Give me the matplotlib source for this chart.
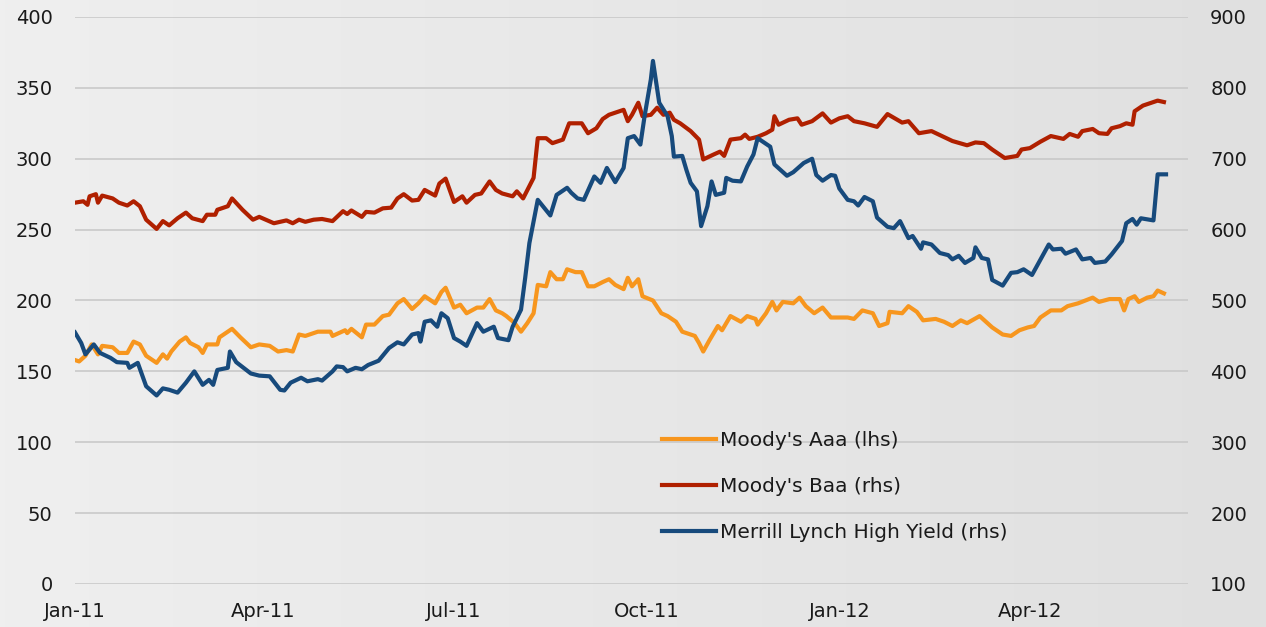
import numpy as np
import pandas as pd
import matplotlib
matplotlib.use('Agg')
import matplotlib.pyplot as plt
import matplotlib.dates as mdates

# days since 1 Jan 2011 and spread values (bp)
aaa_days = [0, 2, 5, 8, 11, 13, 18, 21, 25, 28, 31, 34, 39, 42, 44, 46, 50, 53, 55, 59, 61, 63, 68, 69, 75, 79,
            84, 88, 93, 97, 101, 104, 107, 110, 116, 122, 123, 129, 130, 132, 137, 139, 143, 147, 150, 154, 157,
            161, 164, 167, 172, 175, 177, 181, 184, 187, 192, 195, 198, 201, 204, 206, 210, 213, 216, 219, 221,
            225, 227, 230, 233, 235, 239, 242, 245, 248, 252, 255, 258, 262, 264, 266, 269, 271, 276, 280, 283,
            287, 290, 294, 296, 298, 300, 303, 307, 309, 313, 318, 321, 325, 326, 330, 333, 335, 338, 343, 346,
            349, 353, 357, 361, 365, 369, 372, 376, 381, 384, 388, 389, 395, 398, 402, 405, 411, 415, 419, 423,
            426, 432, 438, 443, 447, 451, 455, 458, 461, 466, 471, 474, 479, 486, 489, 494, 499, 501, 503, 506,
            508, 512, 515, 517, 520]
aaa_vals = [158, 157, 161, 169, 162, 168, 167, 163, 163, 171, 169, 161, 156, 162, 159, 164, 171, 174, 170, 167,
            163, 169, 169, 174, 180, 174, 167, 169, 168, 164, 165, 164, 176, 175, 178, 178, 175, 179, 177, 180,
            174, 183, 183, 189, 190, 198, 201, 194, 198, 203, 198, 206, 209, 195, 197, 191, 195, 195, 201, 193,
            191, 189, 184, 178, 184, 191, 211, 210, 220, 215, 215, 222, 220, 220, 210, 210, 213, 215, 211, 208,
            216, 210, 215, 203, 200, 191, 189, 185, 178, 176, 175, 170, 164, 172, 182, 179, 189, 185, 189, 187,
            183, 191, 199, 193, 199, 198, 202, 196, 191, 195, 188, 188, 188, 187, 193, 191, 182, 184, 192, 191,
            196, 192, 186, 187, 185, 182, 186, 184, 189, 181, 176, 175, 179, 181, 182, 188, 193, 193, 196, 198,
            202, 199, 201, 201, 193, 201, 203, 199, 202, 203, 207, 205]

baa_days = [0, 4, 6, 7, 10, 11, 13, 18, 21, 25, 28, 31, 34, 39, 42, 45, 49, 53, 56, 61, 63, 67, 68, 73, 75, 80,
            85, 88, 95, 101, 104, 107, 110, 114, 118, 123, 128, 130, 132, 137, 139, 143, 147, 151, 154, 157, 161,
            164, 167, 172, 174, 177, 181, 185, 187, 191, 194, 198, 201, 204, 209, 211, 214, 219, 221, 225, 228,
            233, 236, 242, 245, 249, 252, 255, 262, 264, 266, 269, 271, 275, 278, 281, 284, 286, 289, 294, 298,
            300, 305, 308, 310, 313, 318, 320, 322, 326, 330, 333, 334, 336, 341, 345, 347, 352, 357, 361, 365,
            369, 372, 377, 383, 388, 395, 398, 403, 409, 414, 419, 426, 430, 434, 438, 444, 450, 452, 456, 461,
            466, 472, 475, 479, 481, 486, 489, 493, 495, 499, 502, 505, 506, 510, 514, 517, 520]
baa_vals = [638, 640, 635, 647, 650, 638, 648, 644, 638, 634, 640, 633, 614, 601, 612, 606, 616, 624, 616, 612,
            621, 621, 628, 633, 644, 628, 614, 618, 609, 613, 609, 614, 611, 614, 615, 612, 626, 622, 627, 618,
            625, 624, 630, 631, 644, 650, 641, 642, 656, 648, 665, 672, 639, 647, 638, 649, 651, 668, 656, 651,
            647, 654, 644, 673, 729, 729, 722, 727, 750, 750, 736, 743, 756, 762, 769, 753, 762, 779, 760, 762,
            772, 762, 765, 755, 750, 739, 727, 699, 706, 710, 704, 727, 729, 734, 728, 731, 736, 741, 760, 748,
            755, 757, 748, 753, 764, 751, 757, 760, 753, 750, 745, 763, 751, 753, 736, 739, 732, 725, 719, 723,
            722, 713, 701, 704, 713, 715, 724, 732, 728, 735, 731, 739, 742, 736, 735, 743, 746, 750, 748, 767,
            775, 779, 782, 780]

hy_days = [0, 3, 5, 9, 12, 17, 20, 25, 26, 30, 34, 39, 42, 45, 49, 53, 57, 61, 64, 66, 68, 73, 74, 77, 84, 88,
           93, 98, 100, 103, 108, 111, 116, 118, 123, 125, 128, 130, 134, 137, 140, 145, 150, 154, 157, 161, 164,
           165, 167, 170, 173, 175, 178, 181, 184, 187, 192, 195, 200, 202, 207, 209, 213, 215, 217, 221, 224,
           227, 230, 235, 237, 240, 243, 248, 251, 254, 258, 262, 264, 267, 270, 272, 275, 276, 279, 283, 285,
           286, 290, 292, 294, 297, 299, 302, 304, 306, 310, 311, 314, 318, 321, 324, 326, 332, 334, 340, 343,
           348, 352, 354, 357, 361, 363, 365, 369, 372, 374, 377, 381, 383, 388, 391, 394, 398, 400, 404, 405,
           409, 413, 417, 419, 422, 425, 429, 430, 433, 436, 438, 443, 447, 450, 453, 457, 465, 467, 471, 473,
           478, 481, 485, 487, 492, 495, 500, 502, 505, 507, 509, 515, 517, 521]
hy_vals = [455, 440, 424, 438, 426, 419, 413, 412, 405, 412, 379, 366, 376, 374, 370, 384, 400, 381, 388, 381,
           402, 405, 428, 413, 397, 394, 393, 374, 373, 384, 391, 386, 389, 387, 400, 407, 406, 400, 405, 403,
           409, 415, 433, 441, 438, 452, 454, 442, 470, 472, 463, 482, 475, 447, 442, 436, 468, 456, 463, 447,
           444, 463, 487, 532, 581, 642, 631, 620, 649, 659, 652, 644, 642, 675, 666, 687, 667, 687, 729, 732,
           720, 760, 812, 838, 779, 760, 732, 703, 704, 684, 666, 654, 605, 633, 668, 649, 652, 673, 669, 668,
           689, 706, 729, 717, 692, 676, 681, 694, 700, 677, 669, 677, 676, 658, 642, 640, 634, 646, 640, 617,
           604, 602, 612, 588, 591, 573, 582, 579, 567, 564, 558, 563, 553, 560, 575, 560, 558, 529, 521, 539,
           540, 544, 536, 579, 572, 573, 566, 572, 558, 560, 553, 555, 565, 584, 609, 615, 607, 616, 613, 678,
           678]

series_names = ["Moody's Aaa (lhs)", "Moody's Baa (rhs)", "Merrill Lynch High Yield (rhs)"]
series_colors = ['#f7961e', '#b02000', '#174a7c']
start = pd.Timestamp('2011-01-01')

def to_dates(days):
    return start + pd.to_timedelta(days, unit='D')

fig = plt.figure(figsize=(12.66, 6.27), dpi=100)

# soft grey background, a bit darker to the right
bg = fig.add_axes([0, 0, 1, 1], zorder=-5)
grad = np.linspace(0, 1, 256).reshape(1, -1)
bg.imshow(grad, aspect='auto', cmap=matplotlib.colors.LinearSegmentedColormap.from_list('bg', ['#efefef', '#e0e0e0']),
          extent=[0, 1, 0, 1])
bg.axis('off')

ax = fig.add_axes([0.0592, 0.0686, 0.8792, 0.9043])
ax.set_facecolor('none')
ax2 = ax.twinx()

l1, = ax.plot(to_dates(aaa_days), aaa_vals, color=series_colors[0], lw=3.0, label=series_names[0],
              solid_joinstyle='round')
l2, = ax2.plot(to_dates(baa_days), baa_vals, color=series_colors[1], lw=3.0, label=series_names[1],
               solid_joinstyle='round')
l3, = ax2.plot(to_dates(hy_days), hy_vals, color=series_colors[2], lw=3.0, label=series_names[2],
               solid_joinstyle='round')

ax.set_ylim(0, 400)
ax2.set_ylim(100, 900)
ax.set_yticks(range(0, 401, 50))
ax2.set_yticks(range(100, 901, 100))
ax.set_xlim(start, start + pd.Timedelta(days=531.5))
ax.xaxis.set_major_locator(mdates.MonthLocator(bymonth=[1, 4, 7, 10]))
ax.xaxis.set_major_formatter(mdates.DateFormatter('%b-%y'))

ax.grid(axis='y', color='#c6c6c6', lw=1.1)
ax.set_axisbelow(True)
for a in (ax, ax2):
    for s in a.spines.values():
        s.set_visible(False)
    a.tick_params(length=0, labelsize=14, labelcolor='#1a1a1a')
ax.tick_params(axis='y', pad=16)
ax2.tick_params(axis='y', pad=16)
ax.tick_params(axis='x', pad=13)

leg = ax2.legend(handles=[l1, l2, l3], loc='upper left', bbox_to_anchor=(0.511, 0.302), frameon=False,
                 fontsize=14.5, handlelength=2.7, handletextpad=0.2, labelspacing=1.35)
for t in leg.get_texts():
    t.set_color('#1a1a1a')

plt.savefig('out.png', dpi=100, facecolor=fig.get_facecolor())
